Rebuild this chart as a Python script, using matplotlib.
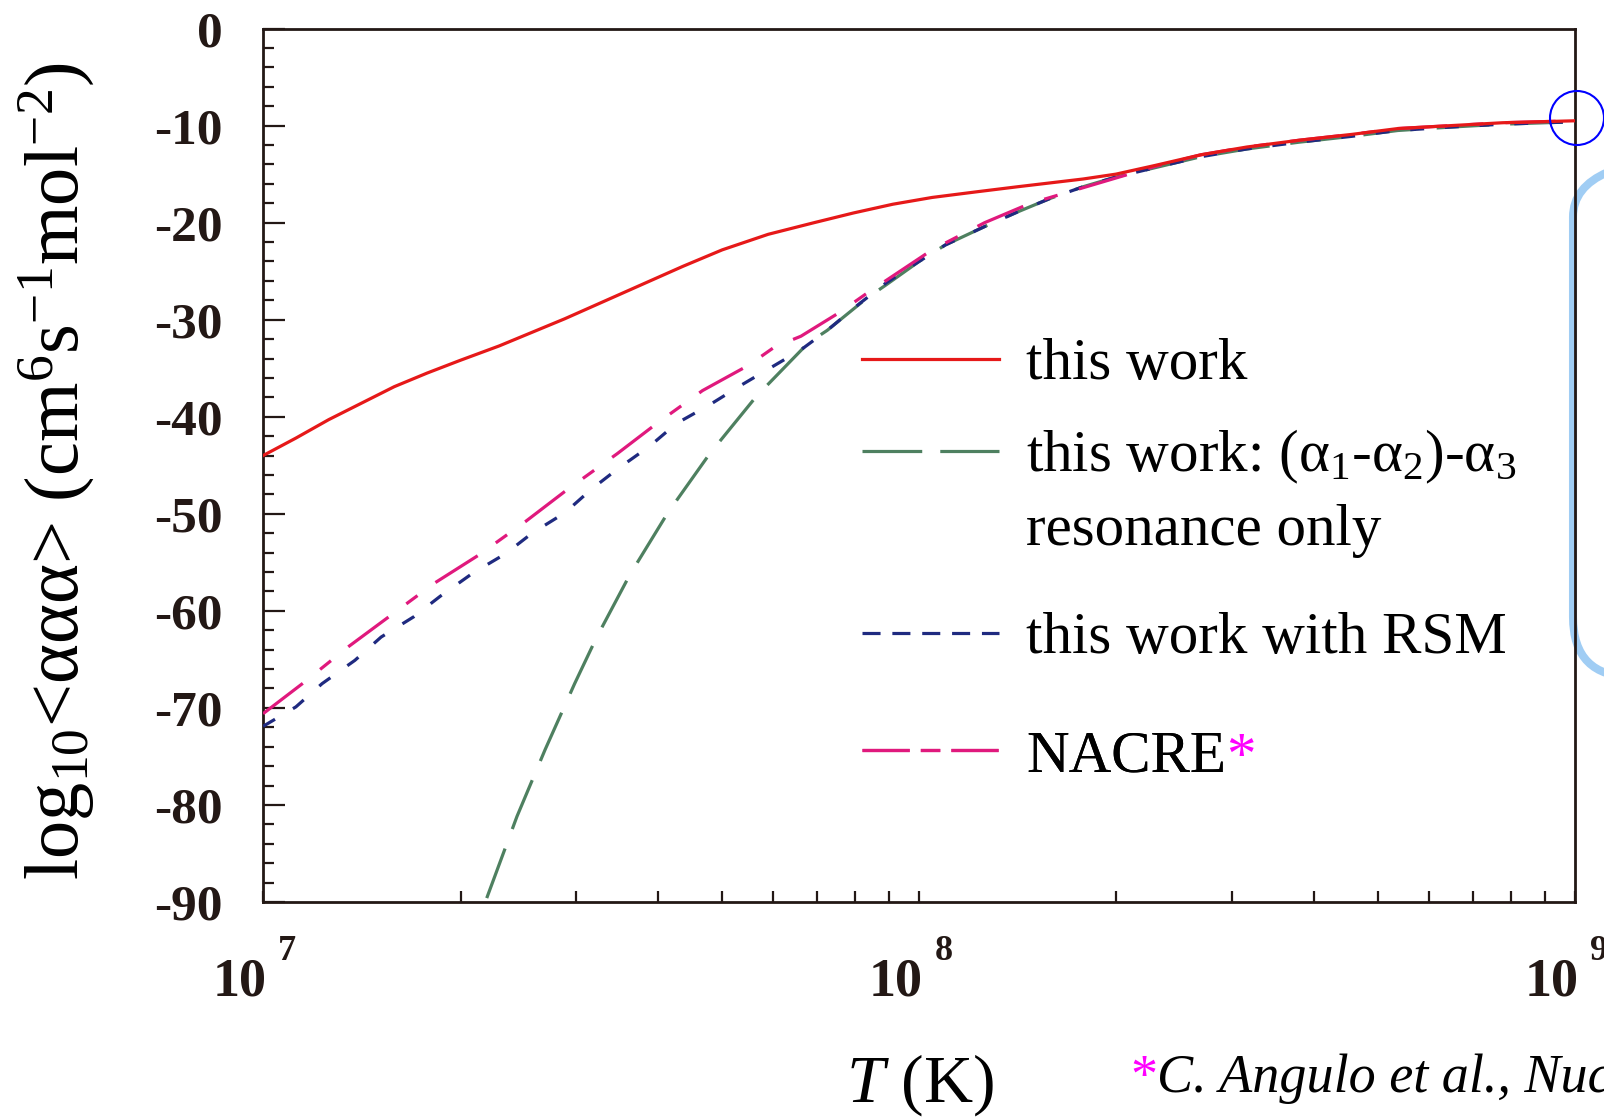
import numpy as np
import matplotlib
matplotlib.use("Agg")
from matplotlib import pyplot as plt
from matplotlib import ticker
import matplotlib.transforms as mtransforms
from matplotlib.lines import Line2D
from matplotlib.patches import Ellipse, FancyBboxPatch

plt.rcParams['font.family'] = ['Liberation Serif', 'DejaVu Serif']
plt.rcParams['mathtext.fontset'] = 'custom'
plt.rcParams['mathtext.rm'] = 'Liberation Serif'
plt.rcParams['mathtext.it'] = 'Liberation Serif:italic'
plt.rcParams['mathtext.bf'] = 'Liberation Serif:bold'
plt.rcParams['axes.unicode_minus'] = False
plt.rcParams['lines.scale_dashes'] = False

# log10(T) and log10<aaa>
red_logT = [7.00, 7.05, 7.10, 7.15, 7.20, 7.25, 7.30, 7.36, 7.41, 7.46, 7.51, 7.58, 7.64, 7.70,
            7.77, 7.84, 7.90, 7.96, 8.02, 8.09, 8.15, 8.20, 8.25, 8.30, 8.36, 8.43, 8.50, 8.58,
            8.66, 8.73, 8.81, 8.89, 9.00]
red_rate = [-44.0, -42.2, -40.3, -38.6, -36.9, -35.5, -34.2, -32.7, -31.3, -29.9, -28.4, -26.3, -24.5, -22.8,
            -21.2, -20.0, -19.0, -18.1, -17.4, -16.8, -16.3, -15.9, -15.5, -15.0, -14.1, -13.0, -12.2, -11.5,
            -10.9, -10.3, -10.0, -9.7, -9.5]

green_logT = [7.341, 7.387, 7.430, 7.475, 7.508, 7.559, 7.617, 7.681, 7.752, 7.831, 7.86,
              7.92, 7.95, 8.00, 8.04, 8.10, 8.15, 8.20, 8.25, 8.30, 8.43, 8.50, 8.58, 8.66, 8.73, 8.81, 8.89, 9.00]
green_rate = [-89.6, -81.2, -74.3, -67.5, -62.8, -56.3, -49.9, -43.8, -37.9, -32.4, -31.1,
              -27.8, -26.4, -24.0, -22.3, -20.4, -18.9, -17.5, -16.3, -15.3, -13.2, -12.4, -11.7, -11.1,
              -10.5, -10.15, -9.85, -9.6]

rsm_logT = [7.00, 7.05, 7.09, 7.14, 7.18, 7.23, 7.27, 7.32, 7.37, 7.41, 7.46, 7.50, 7.54,
            7.59, 7.63, 7.68, 7.73, 7.78, 7.82, 7.86, 7.91, 7.95, 8.00, 8.04, 8.10, 8.15,
            8.20, 8.25, 8.30, 8.43, 8.50, 8.58, 8.66, 8.73, 8.81, 8.89, 9.00]
rsm_rate = [-71.9, -69.9, -67.5, -65.1, -62.7, -60.6, -58.5, -56.1, -54.1, -52.0, -49.9, -47.5, -45.4,
            -43.0, -40.7, -38.8, -36.7, -34.7, -33.1, -31.1, -28.3, -26.2, -24.0, -22.3, -20.4, -18.9,
            -17.5, -16.3, -15.3, -13.2, -12.4, -11.7, -11.1, -10.5, -10.15, -9.85, -9.6]

nacre_logT = [7.00, 7.06, 7.13, 7.19, 7.26, 7.33, 7.40, 7.46, 7.54, 7.60, 7.67, 7.74, 7.78,
              7.82, 7.88, 7.92, 8.02, 8.10, 8.17, 8.23, 8.29, 8.36, 8.43, 8.50, 8.58, 8.66,
              8.73, 8.81, 8.89, 9.00]
nacre_rate = [-70.6, -67.5, -63.7, -60.7, -57.2, -54.2, -50.8, -47.7, -43.8, -40.7, -37.3, -34.7, -32.8,
              -31.7, -29.2, -27.3, -22.8, -20.0, -18.0, -16.8, -15.6, -14.2, -13.0, -12.2, -11.5, -10.9,
              -10.3, -10.0, -9.7, -9.5]

labels = ['this work', r'this work: (α$_1$-α$_2$)-α$_3$', 'this work with RSM', 'NACRE']
colors = ['#E61919', '#4E8060', '#1F2A80', '#E0197D']
styles = ['-', (0, (38, 15)), (0, (10, 15)), (0, (36, 16, 10, 16))]
legend_styles = ['-', (0, (43, 13)), (0, (13, 8.5)), (0, (34, 8, 14, 8))]
x_decades = [7, 8, 9]

ink = '#231815'

fig = plt.figure(figsize=(16.04, 11.17), dpi=100)
ax = fig.add_axes([0.1640, 0.1925, 0.8179, 0.7819])
ax.set_facecolor('none')

series = [(red_logT, red_rate), (green_logT, green_rate), (rsm_logT, rsm_rate), (nacre_logT, nacre_rate)]
zorders = [5, 2, 3, 4]
for (lt, r), c, ls, z in zip(series, colors, styles, zorders):
    ax.plot(10 ** np.array(lt), r, color=c, ls=ls, lw=2.3, zorder=z)

ax.set_xscale('log')
ax.set_xlim(1e7, 1e9)
ax.set_ylim(-90, 0)
ax.yaxis.set_major_locator(ticker.MultipleLocator(10))
ax.yaxis.set_minor_locator(ticker.MultipleLocator(2))
ax.yaxis.set_major_formatter(ticker.FuncFormatter(lambda v, p: '%d' % round(v)))
ax.set_xticks(10.0 ** np.array(x_decades))
ax.xaxis.set_minor_locator(ticker.LogLocator(base=10, subs=np.arange(2, 10), numticks=20))
ax.xaxis.set_minor_formatter(ticker.NullFormatter())
ax.xaxis.set_major_formatter(ticker.FuncFormatter(lambda v, p: '10'))

ax.tick_params(axis='y', which='major', direction='in', length=16, width=1.6,
               pad=29, labelsize=37, color=ink, labelcolor=ink)
ax.tick_params(axis='y', which='minor', direction='in', length=8, width=1.6, color=ink)
ax.tick_params(axis='x', which='both', direction='in', length=8, width=1.6,
               pad=40, labelsize=39, color=ink, labelcolor=ink)
ax.tick_params(top=False, right=False, which='both')
plt.setp(ax.get_yticklabels(), fontweight='bold')
plt.setp(ax.get_xticklabels(), fontweight='bold')
shift = mtransforms.ScaledTranslation(-23 / 100, 0, fig.dpi_scale_trans)
for lab in ax.get_xticklabels():
    lab.set_transform(lab.get_transform() + shift)

# exponents of the decade labels, set high and apart like the slide
for e in x_decades:
    ax.annotate(str(e), xy=(10.0 ** e, 0), xycoords=('data', 'axes fraction'),
                xytext=(11, -24), textcoords='offset points', ha='left', va='top',
                fontsize=26, fontweight='bold', color=ink, annotation_clip=False)

for s in ax.spines.values():
    s.set_linewidth(2.0)
    s.set_color(ink)

ax.set_ylabel(r'log$_{10}$<ααα> (cm$^6$s$^{-1}$mol$^{-2}$)', fontsize=55, color='black')
ax.yaxis.set_label_coords(-0.158, 0.4935)
ax.yaxis.label.set_va('center')
ax.set_xlabel(r'$T$ (K)', fontsize=49, color='black')
ax.xaxis.set_label_coords(0.5008, -0.229)
ax.xaxis.label.set_va('baseline')

# legend, one entry at a time so the rows can sit where they do in the slide
row_y = [0.6148, 0.5095, 0.3011, 0.1660]
legs = []
for lab, c, ls, y in zip(labels, colors, legend_styles, row_y):
    h = Line2D([], [], color=c, ls=ls, lw=2.3)
    leg = ax.legend([h], [lab], loc='center left', bbox_to_anchor=(0.4566, y),
                    frameon=False, fontsize=42.5, handlelength=2.32, handletextpad=0.46,
                    borderpad=0, borderaxespad=0)
    ax.add_artist(leg)
    legs.append(leg)

ax.annotate('resonance only', xy=(0, 0), xycoords=legs[1].get_texts()[0],
            xytext=(0, -52), textcoords='offset points', va='bottom', ha='left',
            fontsize=42.5, zorder=10, annotation_clip=False)
ax.annotate('*', xy=(1, 0.97), xycoords=legs[3].get_texts()[0], va='top', ha='left',
            fontsize=42.5, color='#FF00FF', zorder=10, annotation_clip=False)

# footnote
star = fig.text(1130 / 1604, 0.0224, '*', color='#FF00FF', fontsize=39, va='baseline')
ax.annotate('C. Angulo et al., Nucl. Phys. A656 (1999) 3', xy=(1, 0), xycoords=star,
            va='bottom', ha='left', fontsize=39, style='italic', annotation_clip=False)

# slide decorations: blue circle at the curve end, light blue rounded frame
fig.add_artist(Ellipse((1577 / 1604, 999 / 1117), 54 / 1604, 54 / 1117,
                       transform=fig.transFigure, fill=False, ec='#0000FF', lw=1.5))
fig.add_artist(FancyBboxPatch((1573, 440), 200, 520,
                              boxstyle='round,pad=0,rounding_size=60',
                              transform=mtransforms.IdentityTransform(),
                              fill=False, ec='#A0CDF4', lw=5.8, zorder=-1))

fig.savefig('out.png', dpi=100, facecolor='white')
